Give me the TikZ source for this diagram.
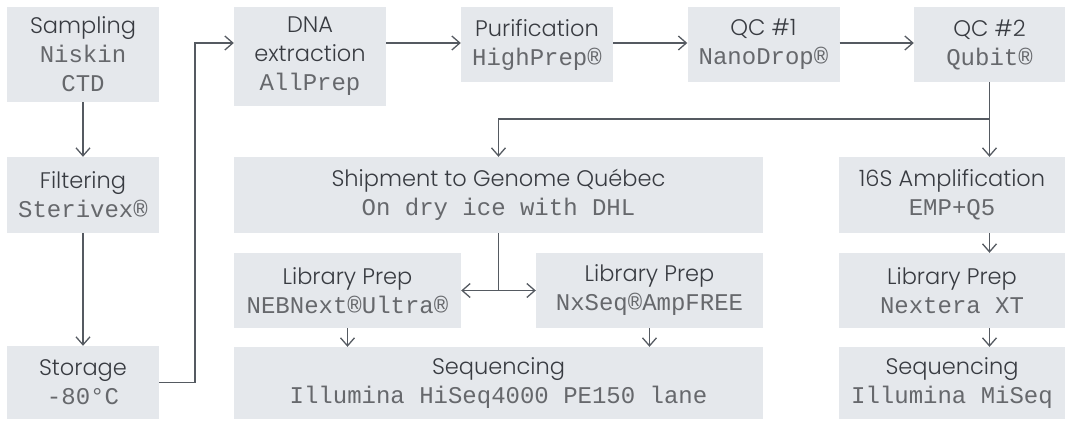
\documentclass[tikz,border=0pt]{standalone}
\usepackage{fontspec}
\setmainfont{Poppins}[UprightFont=* Light]
\setmonofont{Liberation Mono}
\usepackage{xcolor}
\usetikzlibrary{arrows.meta, positioning}
\definecolor{boxfill}{HTML}{E5E8EC}
\definecolor{ink}{HTML}{383B41}
\definecolor{monoink}{HTML}{66686C}
\definecolor{wire}{HTML}{555A61}
\newcommand{\tool}[1]{{\fontsize{24}{29}\ttfamily\color{monoink}#1}}

\begin{document}
\begin{tikzpicture}[x=1pt, y=-1pt, >={Straight Barb[length=8pt, width=14pt]},
  stage/.style={rectangle, fill=boxfill, text=ink, inner sep=0pt, align=center, font=\fontsize{22.5}{29}\selectfont},
  small/.style={stage, minimum width=152pt},
  wide/.style={stage, minimum width=227pt},
  flow/.style={draw=wire, line width=1.3pt}]

            \useasboundingbox (0,0) rectangle (1065,421);

            \node[small, minimum height=95pt] (samp) at (83,54.5) {Sampling\\\tool{Niskin}\\\tool{CTD}};
            \node[small, minimum height=76pt] (filt) at (83,195) {Filtering\\\tool{Sterivex®}};
            \node[small, minimum height=73pt] (stor) at (83,382.5) {Storage\\\tool{-80°C}};
            \node[small, minimum height=99pt] (dna) at (310,56.5) {DNA\\extraction\\\tool{AllPrep}};
            \node[small, minimum height=75pt] (pur) at (537,44.5) {Purification\\\tool{HighPrep®}};
            \node[small, minimum height=75pt] (qc1) at (763.5,44.5) {QC \#1\\\tool{NanoDrop®}};
            \node[small, minimum width=151pt, minimum height=75pt] (qc2) at (989.5,44.5) {QC \#2\\\tool{Qubit®}};

            \node[stage, minimum width=529pt, minimum height=76pt] (ship) at (498.5,195) {Shipment to Genome Québec\\\tool{On dry ice with DHL}};
            \node[wide, minimum height=75pt] (lib1) at (347.5,290.5) {Library Prep\\\tool{NEBNext®Ultra®}};
            \node[wide, minimum height=75pt] (lib2) at (649.5,290.5) {Library Prep\\\tool{NxSeq®AmpFREE}};
            \node[stage, minimum width=529pt, minimum height=72pt] (seq1) at (498.5,383) {Sequencing\\\tool{Illumina HiSeq4000 PE150 lane}};

            \node[stage, minimum width=226pt, minimum height=76pt] (amp) at (952,195) {16S Amplification\\\tool{EMP+Q5}};
            \node[stage, minimum width=226pt, minimum height=75pt] (lib3) at (952,290.5) {Library Prep\\\tool{Nextera XT}};
            \node[stage, minimum width=226pt, minimum height=72pt] (seq2) at (952,383) {Sequencing\\\tool{Illumina MiSeq}};

            \coordinate (up) at (195,43);
            \coordinate (split) at (989.5,119);
            \coordinate (fork) at (498.5,290.5);

            \path[every edge/.style={flow, ->}]
            (samp) edge (filt)
            (filt) edge (stor)
            (dna.east |- up) edge (pur.west |- up)
            (pur.east |- up) edge (qc1.west |- up)
            (qc1.east |- up) edge (qc2.west |- up)
            (split) edge (split |- amp.north)
            (amp.south -| split) edge (lib3.north -| split)
            (lib3.south -| split) edge (seq2.north -| split)
            (lib1.south) edge (lib1.south |- seq1.north)
            (lib2.south) edge (lib2.south |- seq1.north);

            \draw[flow, ->] (stor.east) -| (up) -- (dna.west |- up);
            \draw[flow] (qc2.south) -- (split);
            \draw[flow, ->] (split) -| (ship.north);
            \draw[flow] (ship.south) -- (fork);
            \draw[flow, <->] (lib1.east) -- (lib2.west);

        \end{tikzpicture}
\end{document}
